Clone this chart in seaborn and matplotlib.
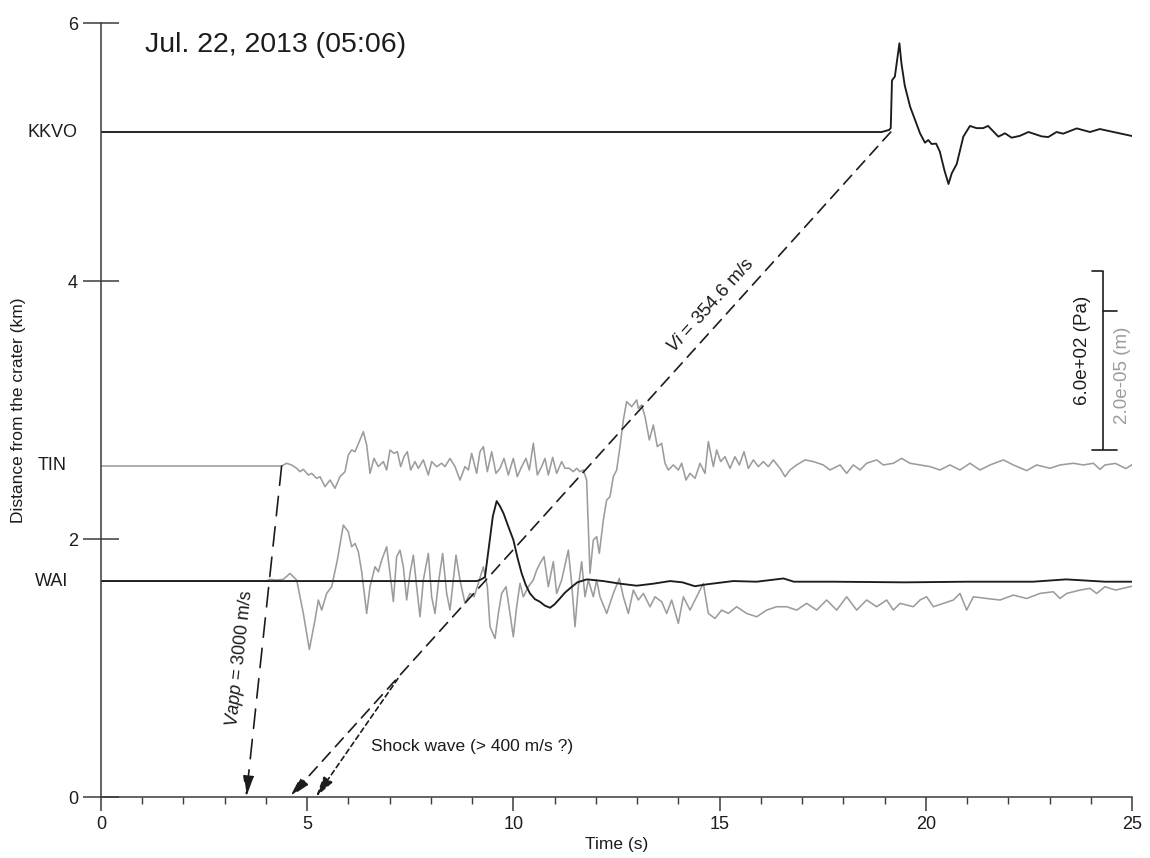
import numpy as np
import pandas as pd
import matplotlib
matplotlib.use("Agg")
import matplotlib.pyplot as plt
from matplotlib.ticker import MultipleLocator, FixedLocator
import seaborn as sns

# Stations and their distance from the crater (km)
stations = ["KKVO", "TIN", "WAI"]
station_km = [5.155, 2.566, 1.674]

# Infrasound pressure at KKVO (black); amplitude in plotted km units
kkvo_time = [0.0, 18.93, 19.11, 19.15, 19.18, 19.25, 19.36, 19.41, 19.49, 19.62,
             19.74, 19.86, 19.98, 20.06, 20.14, 20.25, 20.34, 20.45, 20.55, 20.63,
             20.75, 20.91, 21.07, 21.23, 21.39, 21.51, 21.76, 21.92, 22.08, 22.28,
             22.49, 22.81, 22.97, 23.17, 23.33, 23.66, 23.98, 24.22, 24.55, 25.0]
kkvo_amp = [0.0, 0.0, 0.016, 0.03, 0.40, 0.43, 0.688, 0.53, 0.36, 0.196,
            0.093, -0.01, -0.083, -0.062, -0.093, -0.09, -0.152, -0.295, -0.403, -0.32,
            -0.248, -0.036, 0.047, 0.03, 0.03, 0.047, -0.036, -0.01, -0.044, -0.03,
            0.0, -0.034, -0.039, 0.0, -0.013, 0.028, 0.0, 0.023, 0.0, -0.031]

# Infrasound pressure at WAI (black)
wai_p_time = [0.0, 9.11, 9.2, 9.31, 9.40, 9.5, 9.594, 9.675, 9.76, 9.88,
              10.0, 10.1, 10.2, 10.3, 10.4, 10.52, 10.64, 10.76, 10.89, 11.0,
              11.13, 11.25, 11.37, 11.55, 11.78, 12.18, 12.58, 12.99, 13.4, 13.8,
              14.1, 14.4, 14.7, 15.33, 15.9, 16.55, 16.8, 17.75, 19.5, 21.0,
              22.6, 23.4, 24.35, 25.0]
wai_p_amp = [0.0, 0.0, 0.01, 0.03, 0.25, 0.5, 0.62, 0.58, 0.525, 0.42,
             0.318, 0.18, 0.06, -0.03, -0.095, -0.14, -0.16, -0.19, -0.207, -0.18,
             -0.134, -0.09, -0.057, -0.01, 0.013, 0.0, -0.02, -0.036, -0.02, 0.0,
             -0.01, -0.04, -0.025, 0.0, -0.005, 0.02, -0.005, -0.005, -0.01, -0.005,
             -0.005, 0.013, -0.005, -0.005]

# Seismic displacement at TIN (gray)
tin_time = [0.0, 4.38, 4.50, 4.62, 4.745, 4.825, 4.906, 5.027, 5.108, 5.229,
            5.31, 5.432, 5.553, 5.674, 5.795, 5.917, 5.997, 6.078, 6.159, 6.28,
            6.361, 6.442, 6.523, 6.62, 6.725, 6.846, 6.927, 7.008, 7.105, 7.186,
            7.266, 7.347, 7.428, 7.509, 7.614, 7.695, 7.816, 7.937, 8.018, 8.139,
            8.26, 8.341, 8.463, 8.584, 8.705, 8.826, 8.907, 8.988, 9.109, 9.19,
            9.271, 9.368, 9.473, 9.578, 9.675, 9.772, 9.877, 9.998, 10.095, 10.2,
            10.305, 10.386, 10.483, 10.58, 10.685, 10.766, 10.847, 10.952, 11.049, 11.17,
            11.251, 11.356, 11.453, 11.534, 11.615, 11.696, 11.776, 11.857, 11.938, 12.019,
            12.083, 12.181, 12.261, 12.342, 12.423, 12.504, 12.585, 12.666, 12.746, 12.868,
            12.989, 13.03, 13.11, 13.191, 13.296, 13.393, 13.49, 13.595, 13.676, 13.757,
            13.878, 14.0, 14.08, 14.185, 14.282, 14.404, 14.525, 14.646, 14.727, 14.848,
            14.929, 15.026, 15.131, 15.252, 15.373, 15.479, 15.592, 15.697, 15.818, 15.939,
            16.061, 16.182, 16.303, 16.465, 16.586, 16.707, 16.869, 17.071, 17.273, 17.515,
            17.677, 17.92, 18.081, 18.243, 18.405, 18.566, 18.809, 18.97, 19.213, 19.415,
            19.617, 19.859, 20.102, 20.344, 20.587, 20.829, 21.072, 21.314, 21.557, 21.88,
            22.123, 22.446, 22.688, 23.012, 23.254, 23.578, 23.82, 24.063, 24.224, 24.345,
            24.6, 24.85, 25.0]
tin_amp = [0.0, 0.0, 0.021, 0.008, -0.018, -0.044, -0.026, -0.07, -0.057, -0.096,
           -0.083, -0.16, -0.109, -0.173, -0.083, -0.044, 0.085, 0.124, 0.111, 0.202,
           0.266, 0.163, -0.057, 0.059, -0.005, 0.034, -0.031, 0.124, 0.098, 0.111,
           -0.005, 0.072, 0.111, -0.031, 0.034, -0.018, 0.047, -0.07, 0.034, -0.005,
           0.021, -0.005, 0.059, -0.005, -0.109, -0.005, -0.031, 0.098, -0.057, 0.111,
           0.15, -0.044, 0.111, -0.057, -0.018, 0.059, -0.07, 0.059, -0.083, -0.005,
           0.059, -0.031, 0.176, -0.07, -0.005, 0.059, -0.07, 0.067, -0.057, 0.034,
           -0.018, -0.018, -0.044, -0.018, -0.044, -0.031, -0.109, -0.832, -0.574, -0.548,
           -0.677, -0.419, -0.264, -0.238, -0.083, -0.031, 0.15, 0.357, 0.499, 0.46,
           0.512, 0.447, 0.473, 0.382, 0.202, 0.318, 0.15, 0.176, 0.021, -0.031,
           0.008, -0.031, 0.021, -0.109, -0.057, -0.096, 0.021, -0.057, 0.189, -0.005,
           0.124, 0.034, 0.072, -0.018, 0.072, 0.008, 0.111, -0.018, 0.047, -0.005,
           0.034, -0.005, 0.047, -0.018, -0.083, -0.031, 0.008, 0.047, 0.034, 0.008,
           -0.031, 0.008, -0.057, 0.008, -0.031, 0.021, 0.047, 0.008, 0.021, 0.059,
           0.021, 0.008, -0.005, -0.031, 0.008, -0.031, 0.021, -0.031, 0.008, 0.047,
           0.008, -0.036, 0.008, -0.018, 0.008, 0.021, 0.008, 0.021, -0.026, 0.008,
           0.02, -0.02, 0.01]

# Seismic displacement at WAI (gray)
wai_s_time = [0.0, 4.0, 4.098, 4.26, 4.421, 4.583, 4.745, 4.906, 5.052, 5.189,
              5.27, 5.351, 5.472, 5.593, 5.731, 5.876, 5.997, 6.078, 6.159, 6.24,
              6.321, 6.442, 6.523, 6.644, 6.725, 6.806, 6.927, 7.008, 7.089, 7.169,
              7.25, 7.331, 7.412, 7.493, 7.574, 7.654, 7.735, 7.816, 7.937, 8.018,
              8.099, 8.18, 8.285, 8.382, 8.463, 8.543, 8.608, 8.705, 8.826, 8.948,
              9.045, 9.15, 9.271, 9.368, 9.433, 9.554, 9.635, 9.715, 9.821, 9.917,
              9.998, 10.079, 10.16, 10.241, 10.362, 10.483, 10.564, 10.645, 10.742, 10.847,
              10.968, 11.049, 11.17, 11.332, 11.413, 11.494, 11.574, 11.655, 11.736, 11.817,
              11.938, 12.019, 12.1, 12.262, 12.423, 12.569, 12.666, 12.787, 12.908, 13.03,
              13.151, 13.312, 13.434, 13.595, 13.717, 13.838, 14.0, 14.121, 14.282, 14.444,
              14.606, 14.727, 14.889, 15.05, 15.212, 15.414, 15.656, 15.899, 16.141, 16.384,
              16.626, 16.869, 17.111, 17.354, 17.596, 17.839, 18.081, 18.324, 18.566, 18.809,
              19.051, 19.213, 19.375, 19.698, 19.859, 20.021, 20.183, 20.425, 20.668, 20.829,
              20.991, 21.153, 21.476, 21.799, 22.123, 22.446, 22.769, 23.093, 23.254, 23.416,
              23.739, 23.982, 24.143, 24.345, 24.6, 25.0]
wai_s_amp = [0.0, 0.0, 0.013, 0.008, 0.013, 0.059, 0.008, -0.251, -0.53, -0.302,
             -0.147, -0.225, -0.096, -0.044, 0.163, 0.434, 0.382, 0.266, 0.292, 0.227,
             0.072, -0.251, -0.044, 0.111, 0.072, 0.163, 0.266, 0.059, -0.16, 0.189,
             0.24, 0.111, -0.147, 0.059, 0.201, -0.044, -0.277, 0.008, 0.214, -0.122,
             -0.251, -0.018, 0.214, -0.096, -0.225, 0.008, 0.201, 0.008, -0.173, -0.096,
             -0.122, -0.018, 0.111, -0.044, -0.354, -0.445, -0.251, -0.096, -0.044, -0.251,
             -0.432, -0.199, -0.018, -0.122, -0.044, 0.008, 0.085, 0.137, 0.189, -0.044,
             0.15, -0.096, 0.008, 0.24, -0.018, -0.354, -0.044, 0.15, -0.122, 0.008,
             -0.122, 0.008, -0.122, -0.251, -0.096, 0.021, -0.122, -0.251, -0.07, -0.147,
             -0.096, -0.199, -0.122, -0.16, -0.251, -0.147, -0.328, -0.122, -0.225, -0.122,
             -0.018, -0.251, -0.29, -0.225, -0.251, -0.199, -0.251, -0.277, -0.225, -0.199,
             -0.199, -0.225, -0.173, -0.225, -0.147, -0.225, -0.122, -0.225, -0.147, -0.199,
             -0.147, -0.225, -0.173, -0.199, -0.147, -0.122, -0.199, -0.173, -0.147, -0.096,
             -0.225, -0.122, -0.135, -0.147, -0.109, -0.135, -0.096, -0.083, -0.135, -0.096,
             -0.07, -0.057, -0.096, -0.044, -0.07, -0.04]

# Axis ticks
time_ticks = [0, 5, 10, 15, 20, 25]
dist_ticks = [0, 2, 4, 6]

# Travel-time lines: (start, arrow tip) in (s, km)
vi_line = [(19.15, 5.155), (4.58, 0.0)]
shock_line = [(7.2, 0.918), (5.21, 0.0)]
vapp_line = [(4.38, 2.566), (3.52, 0.0)]

INK = "#1c1c1c"
GRAY = "#9c9c9c"
AXC = "#3a3a3a"

sns.set_theme(style="ticks")
plt.rcParams["font.family"] = ["Liberation Sans", "DejaVu Sans"]
plt.rcParams["mathtext.fontset"] = "custom"
plt.rcParams["mathtext.it"] = "Liberation Sans:italic"
plt.rcParams["mathtext.rm"] = "Liberation Sans"
plt.rcParams["lines.scale_dashes"] = False

fig = plt.figure(figsize=(11.5, 8.58), dpi=100)
ax = fig.add_axes([101 / 1150, 61 / 858, 1031 / 1150, 774 / 858])
ax.set_xlim(0, 25)
ax.set_ylim(0, 6)


def trace(times, amps, base):
    return pd.DataFrame({"time": times, "dist": np.asarray(amps) + base})


base = dict(zip(stations, station_km))

# Seismic (gray) first, pressure (black) on top
line_kw = dict(estimator=None, sort=False, ax=ax, solid_joinstyle="round")
sns.lineplot(data=trace(tin_time, tin_amp, base["TIN"]), x="time", y="dist",
             color=GRAY, lw=1.15, **line_kw)
sns.lineplot(data=trace(wai_s_time, wai_s_amp, base["WAI"]), x="time", y="dist",
             color=GRAY, lw=1.15, **line_kw)
sns.lineplot(data=trace(wai_p_time, wai_p_amp, base["WAI"]), x="time", y="dist",
             color=INK, lw=1.35, **line_kw)
sns.lineplot(data=trace(kkvo_time, kkvo_amp, base["KKVO"]), x="time", y="dist",
             color=INK, lw=1.35, **line_kw)


def arrow(line, dashes):
    (x0, y0), (x1, y1) = line
    ax.annotate("", xy=(x1, y1), xytext=(x0, y0),
                arrowprops=dict(arrowstyle="-|>,head_length=0.9,head_width=0.23",
                                mutation_scale=14, lw=1.2, color=INK,
                                linestyle=(0, dashes), shrinkA=0, shrinkB=0),
                annotation_clip=False)


arrow(vi_line, (8.5, 5.5))
arrow(shock_line, (3.6, 2.6))
arrow(vapp_line, (14, 8))


def screen_angle(line):
    (x0, y0), (x1, y1) = line
    (a0, b0), (a1, b1) = ax.transData.transform([(x1, y1), (x0, y0)])
    return np.degrees(np.arctan2(b1 - b0, a1 - a0))


# Velocity labels along the lines
ang_vi = screen_angle(vi_line)
d_lab = 3.72
(vx0, vy0), (vx1, vy1) = vi_line
t_lab = vx1 + (vx0 - vx1) * d_lab / vy0
off = 12.0
ax.annotate(r"$\mathit{Vi}$ = 354.6 m/s", xy=(t_lab, d_lab), xytext=(
    -np.sin(np.radians(ang_vi)) * off, np.cos(np.radians(ang_vi)) * off),
    textcoords="offset points", rotation=ang_vi, rotation_mode="anchor",
    ha="center", va="center", fontsize=13.5, color=INK)

ang_vapp = screen_angle(vapp_line)
ax.text(3.37, 1.078, r"$\mathit{Vapp}$ = 3000 m/s", rotation=ang_vapp,
        rotation_mode="anchor", ha="center", va="center", fontsize=13, color=INK)

ax.text(6.55, 0.395, "Shock wave (> 400 m/s ?)", ha="left", va="center",
        fontsize=12.5, color=INK)

ax.text(1.07, 5.83, "Jul. 22, 2013 (05:06)", ha="left", va="center",
        fontsize=20.5, color=INK)

# Amplitude scale bars
bar_x = 24.3
bar_bottom, pa_top, m_top = 2.69, 4.078, 3.767
ax.plot([bar_x, bar_x], [bar_bottom, pa_top], color=INK, lw=1.2, solid_capstyle="butt")
ax.plot([24.03, bar_x], [pa_top, pa_top], color=INK, lw=1.2)
ax.plot([bar_x, 24.64], [m_top, m_top], color=INK, lw=1.2)
ax.plot([24.03, 24.64], [bar_bottom, bar_bottom], color=INK, lw=1.2)
ax.text(23.79, 3.465, "6.0e+02 (Pa)", rotation=90, ha="center", va="center",
        fontsize=13.5, color=INK)
ax.text(24.76, 3.27, "2.0e-05 (m)", rotation=90, ha="center", va="center",
        fontsize=13.5, color=GRAY)

# Station names at their baselines
for name, km in zip(stations, station_km):
    ax.text(-0.0475, km, name, transform=ax.get_yaxis_transform(),
            ha="center", va="center", fontsize=13, color=INK, clip_on=False)

# Axes styling
sns.despine(ax=ax)
ax.spines["left"].set_bounds(0, 6)
for s in ("left", "bottom"):
    ax.spines[s].set_color(AXC)
    ax.spines[s].set_linewidth(1.1)
ax.xaxis.set_major_locator(FixedLocator(time_ticks))
ax.xaxis.set_minor_locator(MultipleLocator(1))
ax.yaxis.set_major_locator(FixedLocator(dist_ticks))
ax.set_xticklabels([str(v) for v in time_ticks])
ax.set_yticklabels([str(v) for v in dist_ticks])
ax.tick_params(axis="y", direction="inout", length=26, width=1.1, pad=3.5,
               color=AXC, labelsize=13, labelcolor=INK)
ax.tick_params(axis="x", which="major", direction="out", length=10, width=1.1,
               pad=4, color=AXC, labelsize=13, labelcolor=INK)
ax.tick_params(axis="x", which="minor", direction="out", length=5, width=1.0,
               color=AXC)

ax.set_xlabel("Time (s)", fontsize=12.5, color=INK)
ax.set_ylabel("Distance from the crater (km)", fontsize=12.5, color=INK)
ax.xaxis.label.set_va("center")
ax.yaxis.label.set_va("center")
ax.xaxis.set_label_coords(0.5, -0.062)
ax.yaxis.set_label_coords(-0.0805, 0.5)
ax.grid(False)

fig.savefig("out.png", dpi=100)
